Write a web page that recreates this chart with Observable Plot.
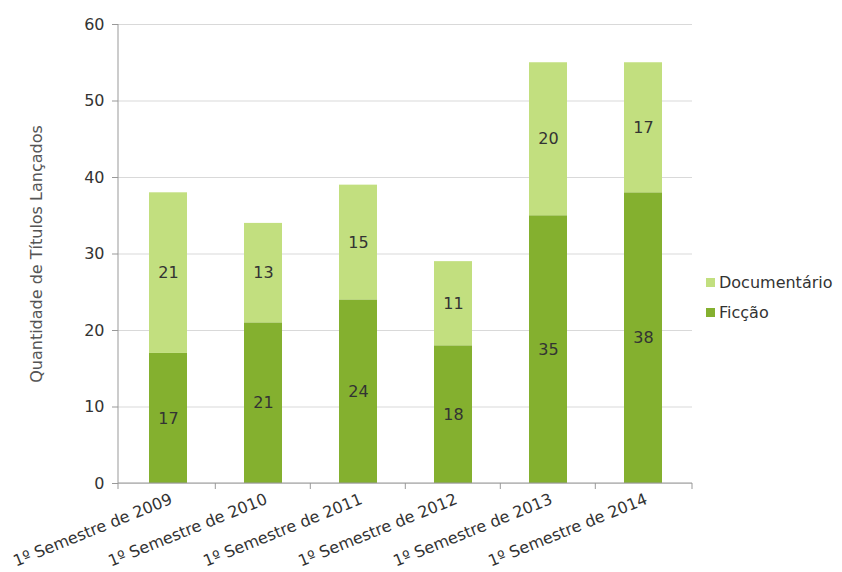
<!DOCTYPE html>
<html>
<head>
<meta charset="utf-8">
<script src="https://cdn.jsdelivr.net/npm/d3@7"></script>
<script src="https://cdn.jsdelivr.net/npm/@observablehq/plot@0.6"></script>
<style>
  html, body { margin: 0; padding: 0; background: #fff; }
  #wrap { position: relative; width: 842px; height: 572px; font-family: "DejaVu Sans", sans-serif; }
  #legend { position: absolute; left: 706px; top: 267px; font-size: 16px; color: #333; }
  #legend .row { display: flex; align-items: center; height: 30px; }
  #legend .sw { width: 9px; height: 9px; margin-right: 4px; }
</style>
</head>
<body>
<div id="wrap">
  <div id="chart"></div>
  <div id="legend"></div>
</div>
<script>
const categories = ["1º Semestre de 2009", "1º Semestre de 2010", "1º Semestre de 2011", "1º Semestre de 2012", "1º Semestre de 2013", "1º Semestre de 2014"];
const ficcao = [17, 21, 24, 18, 35, 38];
const documentario = [21, 13, 15, 11, 20, 17];
const seriesNames = ["Ficção", "Documentário"];
const seriesColors = ["#84b02f", "#c2df7f"];
const yTicks = [0, 10, 20, 30, 40, 50, 60];

const data = [];
categories.forEach((c, i) => data.push({cat: c, type: "Ficção", value: ficcao[i]}));
categories.forEach((c, i) => data.push({cat: c, type: "Documentário", value: documentario[i]}));

const padInner = 0.6, padOuter = 0.3;

function boundaryTicks(index, scales, values, dims) {
  const g = d3.create("svg:g");
  const x = scales.x, y = scales.y;
  const step = (dims.width - dims.marginLeft - dims.marginRight) / categories.length;
  const y0 = y(0);
  const left = dims.marginLeft, right = dims.width - dims.marginRight;
  g.append("line").attr("x1", left).attr("x2", left).attr("y1", y(60)).attr("y2", y0).attr("stroke", "#999");
  g.append("line").attr("x1", left).attr("x2", right).attr("y1", y0).attr("y2", y0).attr("stroke", "#999");
  const bounds = categories.map(c => x(c) - step * padInner / 2);
  bounds.push(right);
  bounds[0] = left;
  for (const bx of bounds) {
    g.append("line").attr("x1", bx).attr("x2", bx).attr("y1", y0).attr("y2", y0 + 6).attr("stroke", "#999");
  }
  return g.node();
}

const chart = Plot.plot({
  width: 842,
  height: 572,
  marginLeft: 118,
  marginRight: 150,
  marginTop: 24,
  marginBottom: 89,
  style: {fontFamily: "DejaVu Sans, sans-serif", fontSize: "16px", color: "#333", background: "white"},
  x: {domain: categories, label: null, paddingInner: padInner, paddingOuter: padOuter},
  y: {domain: [0, 60], label: "Quantidade de Títulos Lançados", labelAnchor: "center", labelArrow: "none"},
  color: {domain: seriesNames, range: seriesColors},
  marks: [
    Plot.gridY(yTicks, {stroke: "#d9d9d9", strokeOpacity: 1}),
    Plot.barY(data, {x: "cat", y: "value", z: "type", fill: "type"}),
    Plot.text(data, Plot.stackY({x: "cat", y: "value", z: "type", text: "value", fill: "#333", fontSize: 16})),
    Plot.axisY(yTicks, {tickSize: 6, tickPadding: 8, stroke: "#999", fontSize: 16, label: "Quantidade de Títulos Lançados", labelAnchor: "center", labelOffset: 88, labelArrow: "none"}),
    Plot.axisX({tickSize: 0, tickPadding: 15, tickRotate: -22, fontSize: 16, dx: 3, label: null}),
    boundaryTicks
  ]
});
document.getElementById("chart").appendChild(chart);

d3.select(chart).selectAll("[aria-label='y-axis label'] text, [aria-label='y-axis label']").attr("font-size", 16).attr("fill", "#555");

const legend = document.getElementById("legend");
[["Documentário", seriesColors[1]], ["Ficção", seriesColors[0]]].forEach(([name, col]) => {
  const row = document.createElement("div");
  row.className = "row";
  row.innerHTML = `<span class="sw" style="background:${col}"></span><span>${name}</span>`;
  legend.appendChild(row);
});
</script>
</body>
</html>
